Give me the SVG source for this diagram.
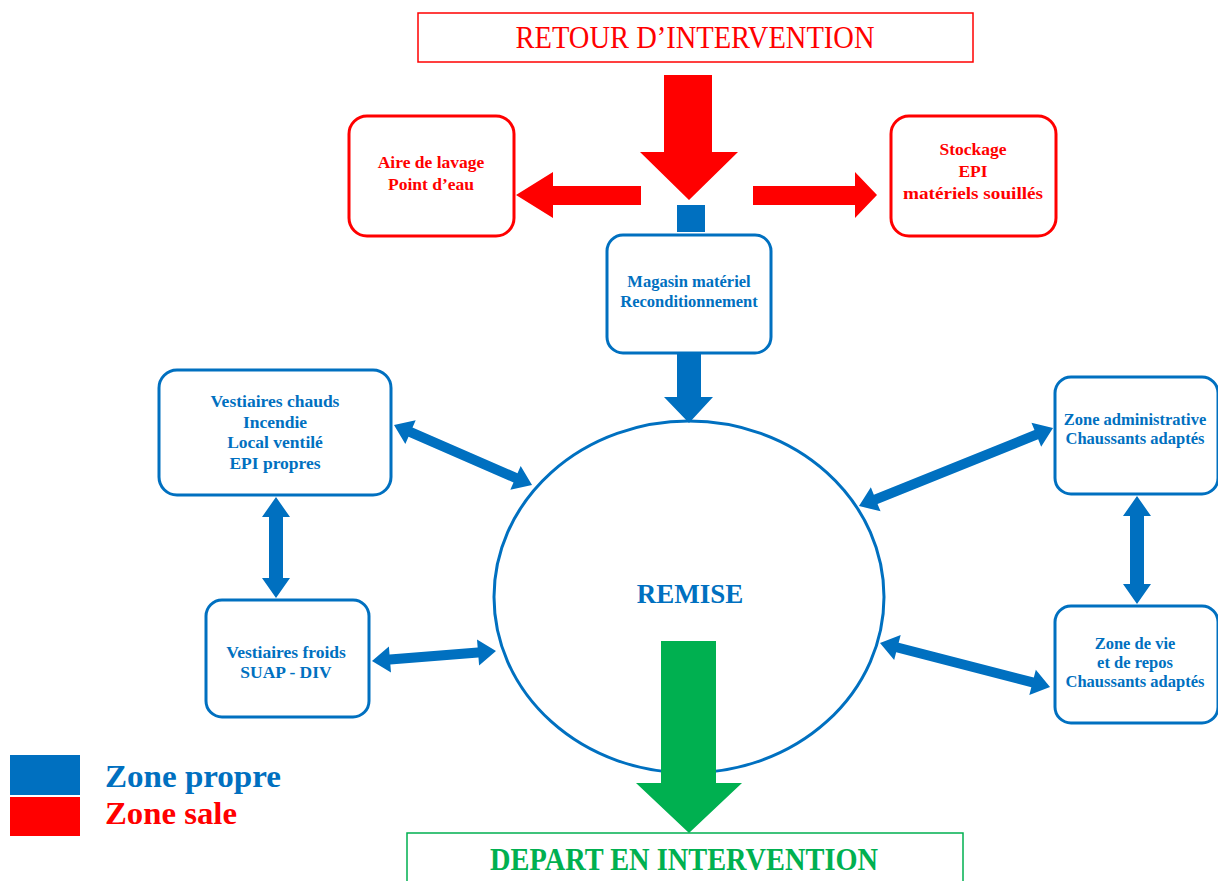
<svg xmlns="http://www.w3.org/2000/svg" width="1218" height="881" viewBox="0 0 1218 881">
<style>
.t{font-family:"Liberation Serif","DejaVu Serif",serif;font-weight:bold;text-anchor:middle}
.b{fill:#0070C0}.r{fill:#FF0000}.g{fill:#00B050}
.bb{fill:#fff;stroke:#0070C0;stroke-width:3}
.rb{fill:#fff;stroke:#FF0000;stroke-width:3}
</style>
<rect width="1218" height="881" fill="#fff"/>
<g id="retour">
<rect x="418" y="13" width="555" height="49" fill="#fff" stroke="#FF0000" stroke-width="1.5"/>
<text x="695" y="48" class="t r" style="font-weight:normal" font-size="31" textLength="359" lengthAdjust="spacingAndGlyphs">RETOUR D’INTERVENTION</text>
</g>
<g id="aire">
<rect x="349" y="116" width="165" height="120" rx="18" class="rb"/>
<text x="431" y="168" class="t r" font-size="17.5">Aire de lavage</text>
<text x="431" y="190" class="t r" font-size="17.5">Point d’eau</text>
</g>
<g id="stockage">
<rect x="891" y="116" width="165" height="120" rx="18" class="rb"/>
<text x="973" y="155" class="t r" font-size="17.5">Stockage</text>
<text x="973" y="177" class="t r" font-size="17.5">EPI</text>
<text x="973" y="199" class="t r" font-size="17.5" textLength="140" lengthAdjust="spacingAndGlyphs">matériels souillés</text>
</g>
<g id="magasin">
<rect x="607" y="235" width="164" height="118" rx="16" class="bb"/>
<text x="689" y="287" class="t b" font-size="16.5">Magasin matériel</text>
<text x="689" y="307" class="t b" font-size="16.5">Reconditionnement</text>
</g>
<g id="remise">
<ellipse cx="689" cy="597" rx="195" ry="176" class="bb"/>
<text x="690" y="603" class="t b" font-size="27">REMISE</text>
</g>
<g id="vchauds">
<rect x="159" y="370" width="232" height="125" rx="18" class="bb"/>
<text x="275" y="407" class="t b" font-size="17.5">Vestiaires chauds</text>
<text x="275" y="428" class="t b" font-size="17.5">Incendie</text>
<text x="275" y="448" class="t b" font-size="17.5">Local ventilé</text>
<text x="275" y="469" class="t b" font-size="17.5">EPI propres</text>
</g>
<g id="vfroids">
<rect x="206" y="600" width="163" height="117" rx="16" class="bb"/>
<text x="286" y="658" class="t b" font-size="17.5">Vestiaires froids</text>
<text x="286" y="678" class="t b" font-size="17.5">SUAP - DIV</text>
</g>
<g id="zadmin">
<rect x="1055" y="377" width="163" height="117" rx="16" class="bb"/>
<text x="1135" y="425" class="t b" font-size="16.5">Zone administrative</text>
<text x="1135" y="444" class="t b" font-size="16.5">Chaussants adaptés</text>
</g>
<g id="zvie">
<rect x="1055" y="606" width="163" height="117" rx="16" class="bb"/>
<text x="1135" y="649" class="t b" font-size="16.5">Zone de vie</text>
<text x="1135" y="668" class="t b" font-size="16.5">et de repos</text>
<text x="1135" y="687" class="t b" font-size="16.5">Chaussants adaptés</text>
</g>
<g id="depart">
<rect x="407" y="833" width="556" height="60" fill="#fff" stroke="#00B050" stroke-width="1.5"/>
<text x="684" y="870" class="t g" font-size="31" textLength="388" lengthAdjust="spacingAndGlyphs">DEPART EN INTERVENTION</text>
</g>
<g id="connectors">
<polygon class="r" points="664,75 712,75 712,152 738,152 689,200 640,152 664,152"/>
<polygon class="r" points="641,186 553,186 553,172 516,195 553,218 553,205 641,205"/>
<polygon class="r" points="753,186 855,186 855,172 877,195 855,218 855,205 753,205"/>
<rect x="677" y="205" width="28" height="27" class="b"/>
<polygon class="b" points="677,353 701,353 701,397 713,397 689,423 664,397 677,397"/>
<polygon class="g" points="661,641 716,641 716,783 742,783 689,833 636,783 661,783"/>
<g class="b">
<polygon transform="translate(394,425) rotate(23.5)" points="0,0 18,-13 18,-5 132.5,-5 132.5,-13 150.5,0 132.5,13 132.5,5 18,5 18,13"/>
<polygon transform="translate(276,497) rotate(90)" points="0,0 20,-14 20,-7 81,-7 81,-14 101,0 81,14 81,7 20,7 20,14"/>
<polygon transform="translate(372,661) rotate(-4.6)" points="0,0 18,-13 18,-5 106.4,-5 106.4,-13 124.4,0 106.4,13 106.4,5 18,5 18,13"/>
<polygon transform="translate(859,506) rotate(-21.9)" points="0,0 18,-13 18,-5 191.1,-5 191.1,-13 209.1,0 191.1,13 191.1,5 18,5 18,13"/>
<polygon transform="translate(1137,496) rotate(90)" points="0,0 20,-14 20,-7 88,-7 88,-14 108,0 88,14 88,7 20,7 20,14"/>
<polygon transform="translate(880,643) rotate(14.5)" points="0,0 18,-13 18,-5 157.6,-5 157.6,-13 175.6,0 157.6,13 157.6,5 18,5 18,13"/>
</g>
</g>
<g id="legend">
<rect x="10" y="755" width="70" height="40" class="b"/>
<rect x="10" y="797" width="70" height="39" class="r"/>
<text x="105" y="787" class="t b" font-size="32" style="text-anchor:start" textLength="176" lengthAdjust="spacingAndGlyphs">Zone propre</text>
<text x="105" y="824" class="t r" font-size="32" style="text-anchor:start" textLength="132" lengthAdjust="spacingAndGlyphs">Zone sale</text>
</g>
</svg>
